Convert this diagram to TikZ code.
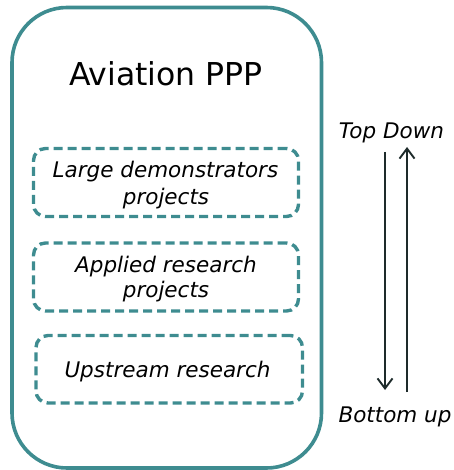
\documentclass[tikz,border=0pt]{standalone}
\usepackage{fontspec}
\setmainfont{DejaVu Sans}
\usetikzlibrary{arrows.meta}
\definecolor{tealc}{HTML}{3E8C90}
\definecolor{arrowc}{HTML}{1E2B2B}
\begin{document}
\begin{tikzpicture}[x=1pt,y=-1pt,
  frame/.style={draw=tealc,line width=3.6pt,rounded corners=55pt,inner sep=0pt,outer sep=0pt},
  dbox/.style={draw=tealc,line width=3.4pt,dash pattern=on 9pt off 5pt,rounded corners=12pt,inner sep=0pt,outer sep=0pt},
  lbl/.style={anchor=base,inner sep=0pt,font=\fontsize{21.5}{26}\selectfont\itshape},
  ttl/.style={anchor=base,inner sep=0pt,font=\fontsize{31.5}{36}\selectfont},
  arr/.style={draw=arrowc,line width=1.9pt,-{Straight Barb[length=10pt,width=15pt,line width=1.9pt]}}
]
\useasboundingbox (0,0) rectangle (453,470);
\node[frame,minimum width=309.5pt,minimum height=460.5pt] (ppp) at (166.75,237.75) {};
\node[ttl] (title) at (166,86) {Aviation PPP};
\node[dbox,minimum width=265pt,minimum height=68pt] (b1) at (166,182.5) {};
\node[dbox,minimum width=265pt,minimum height=68pt] (b2) at (166,277) {};
\node[dbox,minimum width=266.5pt,minimum height=67.5pt] (b3) at (169.25,369.25) {};
\node[lbl] (b1a) at (165.5,178) {Large demonstrators};
\node[lbl] (b1b) at (166,204.5) {projects};
\node[lbl] (b2a) at (166,272) {Applied research};
\node[lbl] (b2b) at (166,297) {projects};
\node[lbl] (b3a) at (167.5,377) {Upstream research};
\node[lbl] (td) at (391.5,138.5) {Top Down};
\node[lbl] (bu) at (395,422) {Bottom up};
\coordinate (d1) at (385,152);
\coordinate (d2) at (385,390);
\coordinate (u1) at (407,392);
\coordinate (u2) at (407,147);
\draw[arr] (d1) -- (d2);
\draw[arr] (u1) -- (u2);
\end{tikzpicture}
\end{document}
